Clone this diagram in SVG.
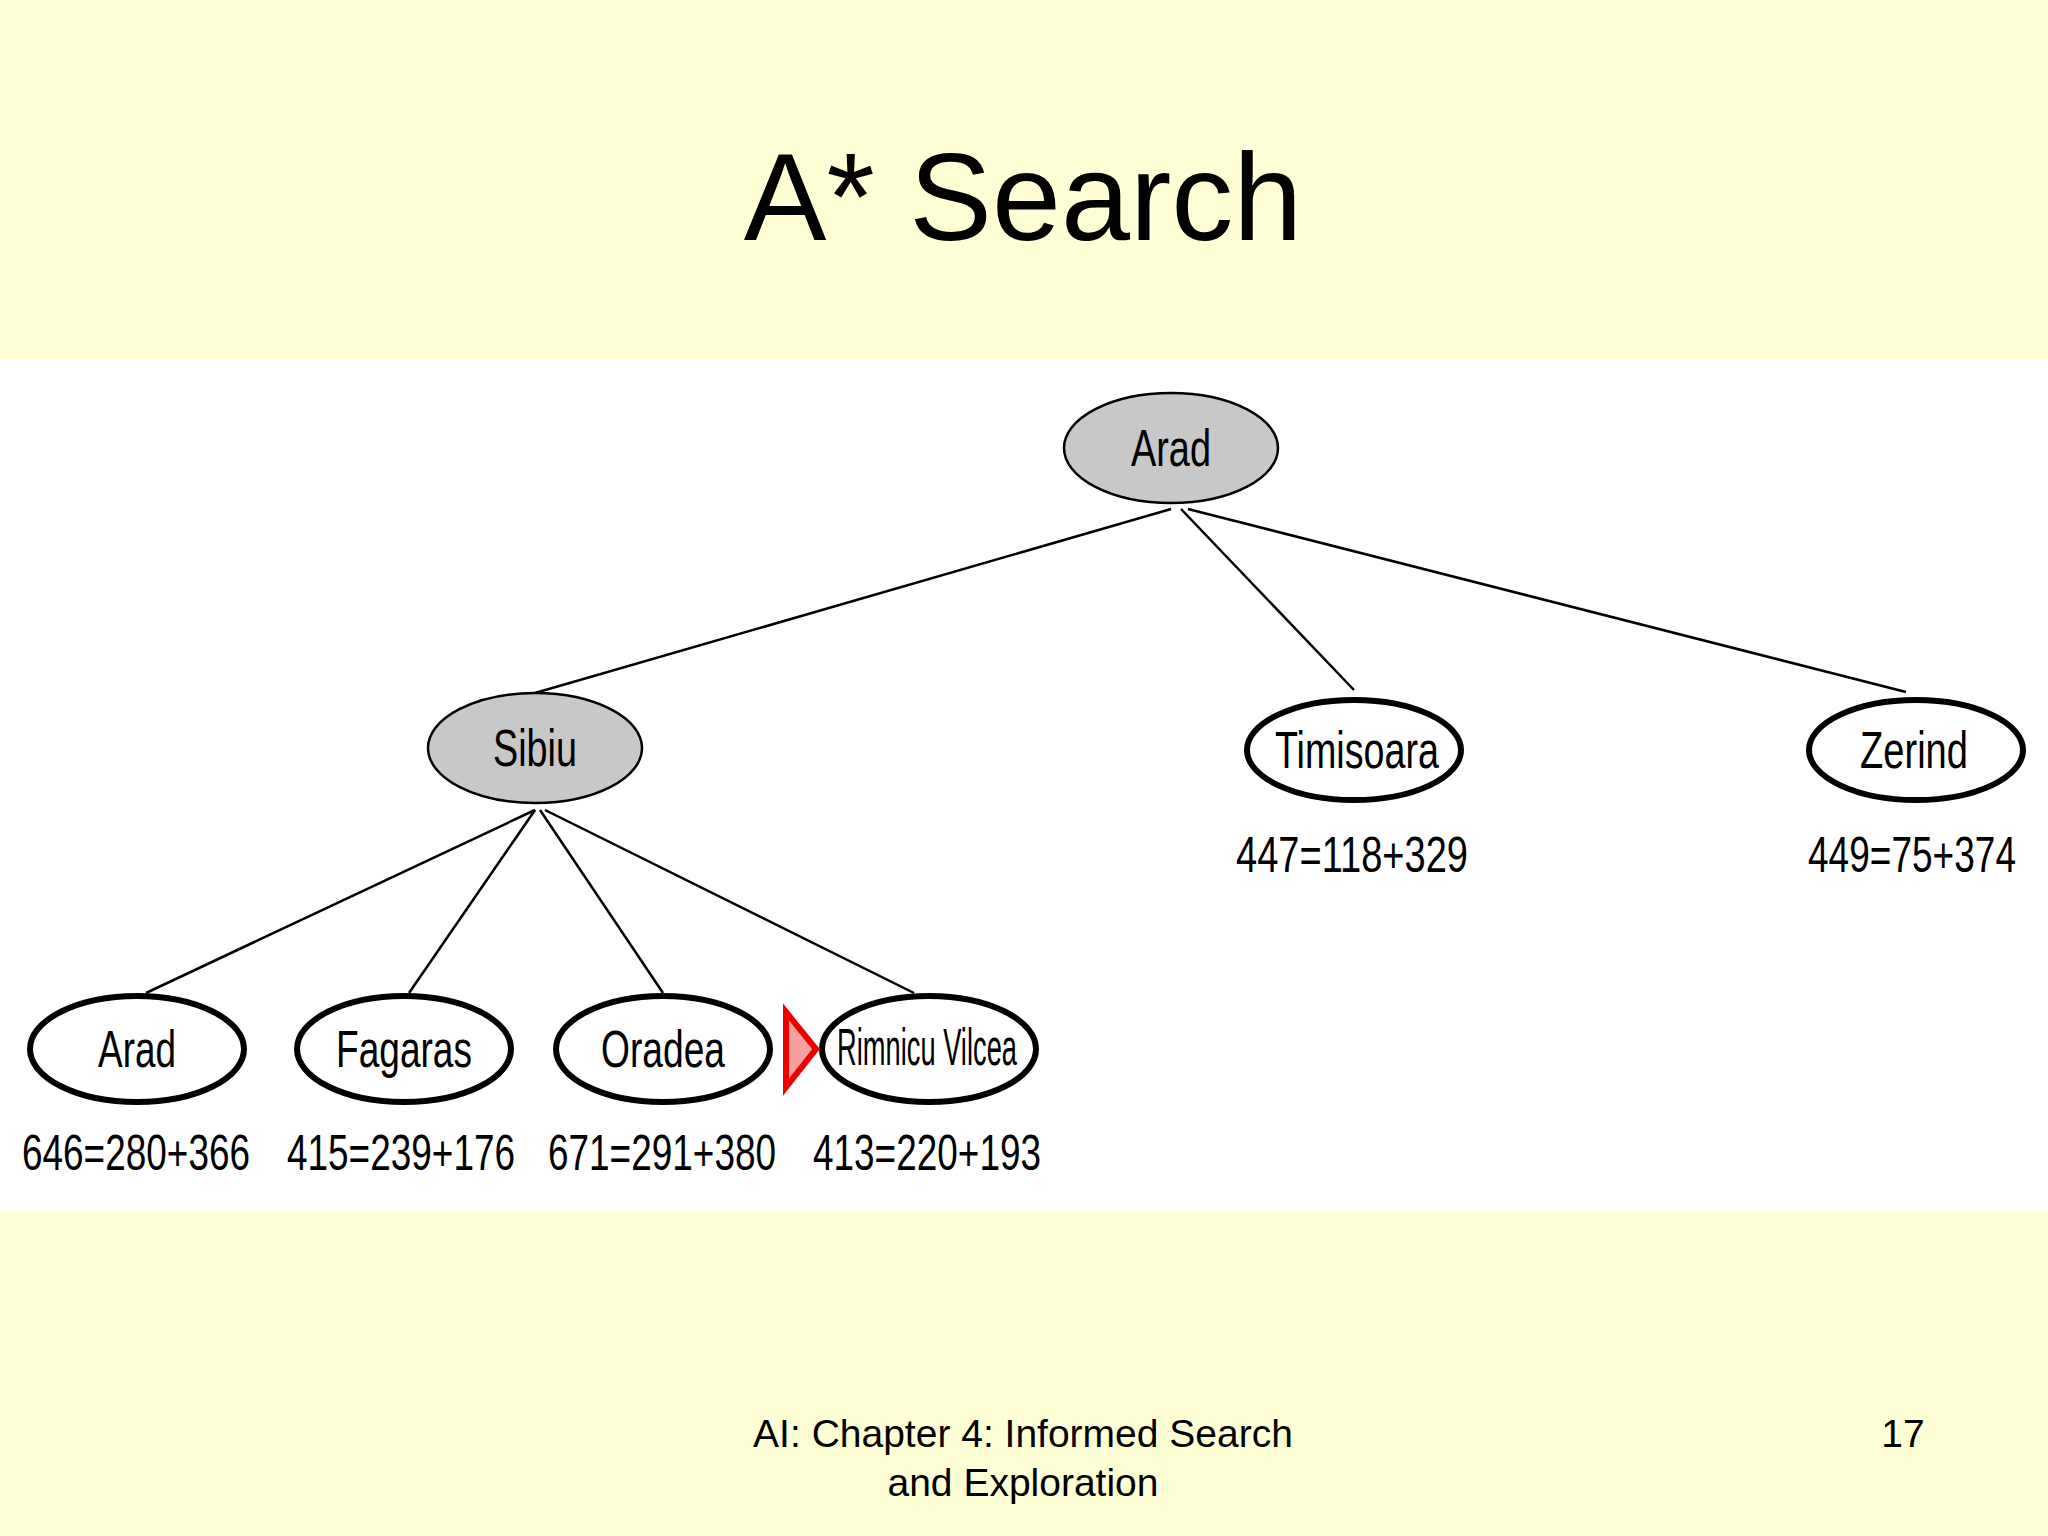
<svg xmlns="http://www.w3.org/2000/svg" width="2048" height="1536" viewBox="0 0 2048 1536">
<style>
.n{font-family:"Liberation Sans",Arial,sans-serif;font-size:52px;text-anchor:middle;fill:#000}
.l{font-family:"Liberation Sans",Arial,sans-serif;font-size:50px;text-anchor:middle;fill:#000}
.g{fill:#c8c8c8;stroke:#000;stroke-width:2.5}
.w{fill:#fff;stroke:#000;stroke-width:6}
.e{stroke:#000;stroke-width:2.5;fill:none}
.f{font-family:"Liberation Sans",Arial,sans-serif;font-size:39px;fill:#000}
</style>
<rect width="2048" height="1536" fill="#ffffd6"/>
<rect x="0" y="359" width="2048" height="852" fill="#fff"/>
<text x="1023" y="240" font-family="Liberation Sans,Arial,sans-serif" font-size="124" text-anchor="middle">A* Search</text>
<g id="edges">
<line class="e" x1="1171" y1="509" x2="535" y2="693"/>
<line class="e" x1="1181" y1="509" x2="1354" y2="690"/>
<line class="e" x1="1188" y1="509" x2="1906" y2="692"/>
<line class="e" x1="535" y1="810" x2="146" y2="993"/>
<line class="e" x1="535" y1="810" x2="409" y2="993"/>
<line class="e" x1="540" y1="810" x2="663" y2="993"/>
<line class="e" x1="545" y1="810" x2="914" y2="993"/>
</g>
<g id="arad"><ellipse class="g" cx="1171" cy="448" rx="107" ry="55"/><text class="n" x="1171" y="466" textLength="80" lengthAdjust="spacingAndGlyphs">Arad</text></g>
<g id="sibiu"><ellipse class="g" cx="535" cy="748" rx="107" ry="55"/><text class="n" x="535" y="766" textLength="84" lengthAdjust="spacingAndGlyphs">Sibiu</text></g>
<g id="timisoara"><ellipse class="w" cx="1354" cy="750" rx="107" ry="50"/><text class="n" x="1357" y="768" textLength="164" lengthAdjust="spacingAndGlyphs">Timisoara</text><text class="l" x="1352" y="872" textLength="232" lengthAdjust="spacingAndGlyphs">447=118+329</text></g>
<g id="zerind"><ellipse class="w" cx="1916" cy="750" rx="107" ry="50"/><text class="n" x="1914" y="768" textLength="108" lengthAdjust="spacingAndGlyphs">Zerind</text><text class="l" x="1912" y="872" textLength="208" lengthAdjust="spacingAndGlyphs">449=75+374</text></g>
<g id="arad2"><ellipse class="w" cx="137" cy="1049" rx="107" ry="53"/><text class="n" x="137" y="1067" textLength="78" lengthAdjust="spacingAndGlyphs">Arad</text><text class="l" x="136" y="1170" textLength="228" lengthAdjust="spacingAndGlyphs">646=280+366</text></g>
<g id="fagaras"><ellipse class="w" cx="404" cy="1049" rx="107" ry="53"/><text class="n" x="404" y="1067" textLength="136" lengthAdjust="spacingAndGlyphs">Fagaras</text><text class="l" x="401" y="1170" textLength="228" lengthAdjust="spacingAndGlyphs">415=239+176</text></g>
<g id="oradea"><ellipse class="w" cx="663" cy="1049" rx="107" ry="53"/><text class="n" x="663" y="1067" textLength="124" lengthAdjust="spacingAndGlyphs">Oradea</text><text class="l" x="662" y="1170" textLength="228" lengthAdjust="spacingAndGlyphs">671=291+380</text></g>
<g id="rimnicu"><ellipse class="w" cx="929" cy="1049" rx="107" ry="53"/><text class="n" x="927" y="1065" font-size="44" textLength="180" lengthAdjust="spacingAndGlyphs">Rimnicu Vilcea</text><text class="l" x="927" y="1170" textLength="228" lengthAdjust="spacingAndGlyphs">413=220+193</text>
<polygon points="786,1012 816,1049 786,1087" fill="#f8a0a0" stroke="#e00" stroke-width="6"/></g>
<text class="f" x="1023" y="1447" text-anchor="middle">AI: Chapter 4: Informed Search</text>
<text class="f" x="1023" y="1496" text-anchor="middle">and Exploration</text>
<text class="f" x="1903" y="1447" text-anchor="middle">17</text>
</svg>
